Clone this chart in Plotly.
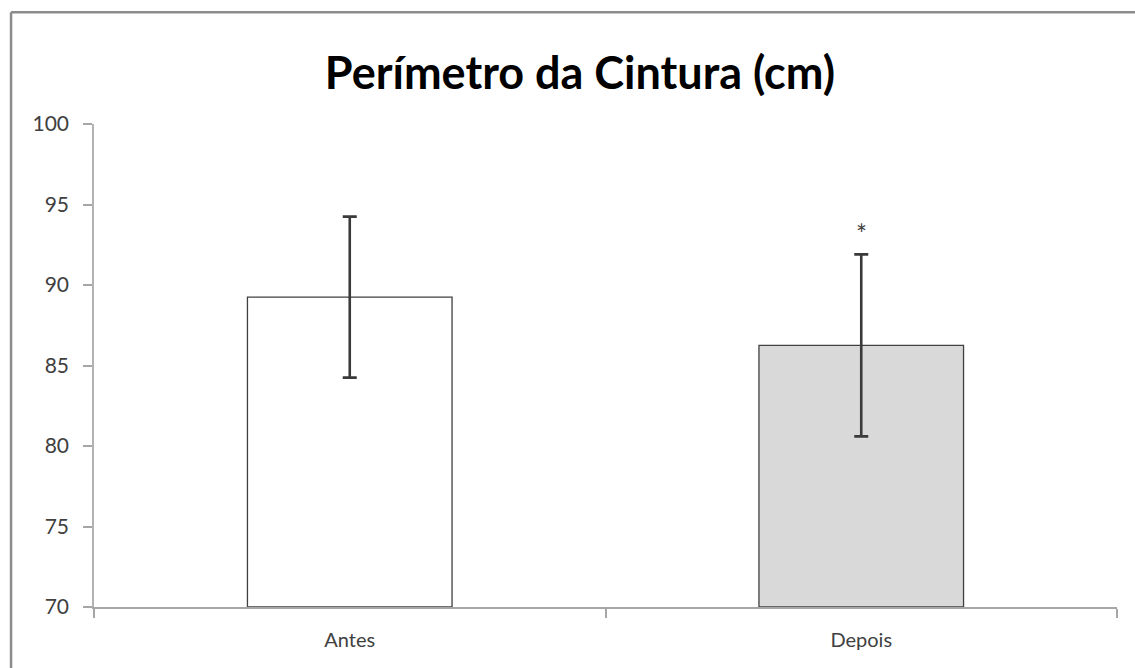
import plotly.graph_objects as go

# Waist circumference before and after, mean ± SD
categories = ["Antes", "Depois"]
means = [89.25, 86.25]
sd = [5.0, 5.65]
fill_colors = ["#ffffff", "#d9d9d9"]
y_ticks = [70, 75, 80, 85, 90, 95, 100]
significance = ["", "*"]

FONT = "Lato"

fig = go.Figure()
fig.add_trace(
    go.Bar(
        x=categories,
        y=[m - 70 for m in means],
        base=70,
        width=0.4,
        marker=dict(color=fill_colors, line=dict(color="#404040", width=1.3)),
        error_y=dict(type="data", array=sd, visible=True,
                     color="#3a3a3a", thickness=2.6, width=7),
        hoverinfo="skip",
    )
)

for cat, m, s, mark in zip(categories, means, sd, significance):
    if mark:
        fig.add_annotation(
            x=cat, y=m + s, text=mark, showarrow=False,
            xref="x", yref="y", yanchor="bottom", yshift=2,
            font=dict(family=FONT, size=26, color="#404040"),
        )

# Outer chart frame (top and left edges)
frame = dict(color="#8c8c8c", width=2.5)
fig.add_shape(type="line", xref="paper", yref="paper",
              x0=-0.0811, x1=1.05, y0=1.2316, y1=1.2316, line=frame)
fig.add_shape(type="line", xref="paper", yref="paper",
              x0=-0.0811, x1=-0.0811, y0=-0.2, y1=1.2316, line=frame)

fig.update_layout(
    width=1135,
    height=668,
    margin=dict(l=94, r=18, t=124, b=60.5),
    paper_bgcolor="white",
    plot_bgcolor="white",
    showlegend=False,
    bargap=0.6,
    title=dict(
        text="<b>Perímetro da Cintura (cm)</b>",
        x=0.475, xanchor="center", xref="paper",
        y=1 - 73 / 668, yanchor="middle", yref="container",
        font=dict(family=FONT, size=45, color="#000000"),
    ),
    xaxis=dict(
        type="category",
        tickson="boundaries",
        ticks="outside",
        ticklen=9,
        tickcolor="#a6a6a6",
        tickwidth=1.5,
        ticklabelstandoff=14,
        showline=True,
        linecolor="#a6a6a6",
        linewidth=1.5,
        showgrid=False,
        tickfont=dict(family=FONT, size=20, color="#404040"),
        fixedrange=True,
    ),
    yaxis=dict(
        range=[70, 100],
        tickvals=y_ticks,
        ticks="outside",
        ticklen=9,
        tickcolor="#a6a6a6",
        tickwidth=1.5,
        ticklabelstandoff=10,
        showline=True,
        linecolor="#b3b3b3",
        linewidth=1.5,
        showgrid=False,
        zeroline=False,
        tickfont=dict(family=FONT, size=21, color="#404040"),
        fixedrange=True,
    ),
)

fig.write_html("out.html", config={"displayModeBar": False})
